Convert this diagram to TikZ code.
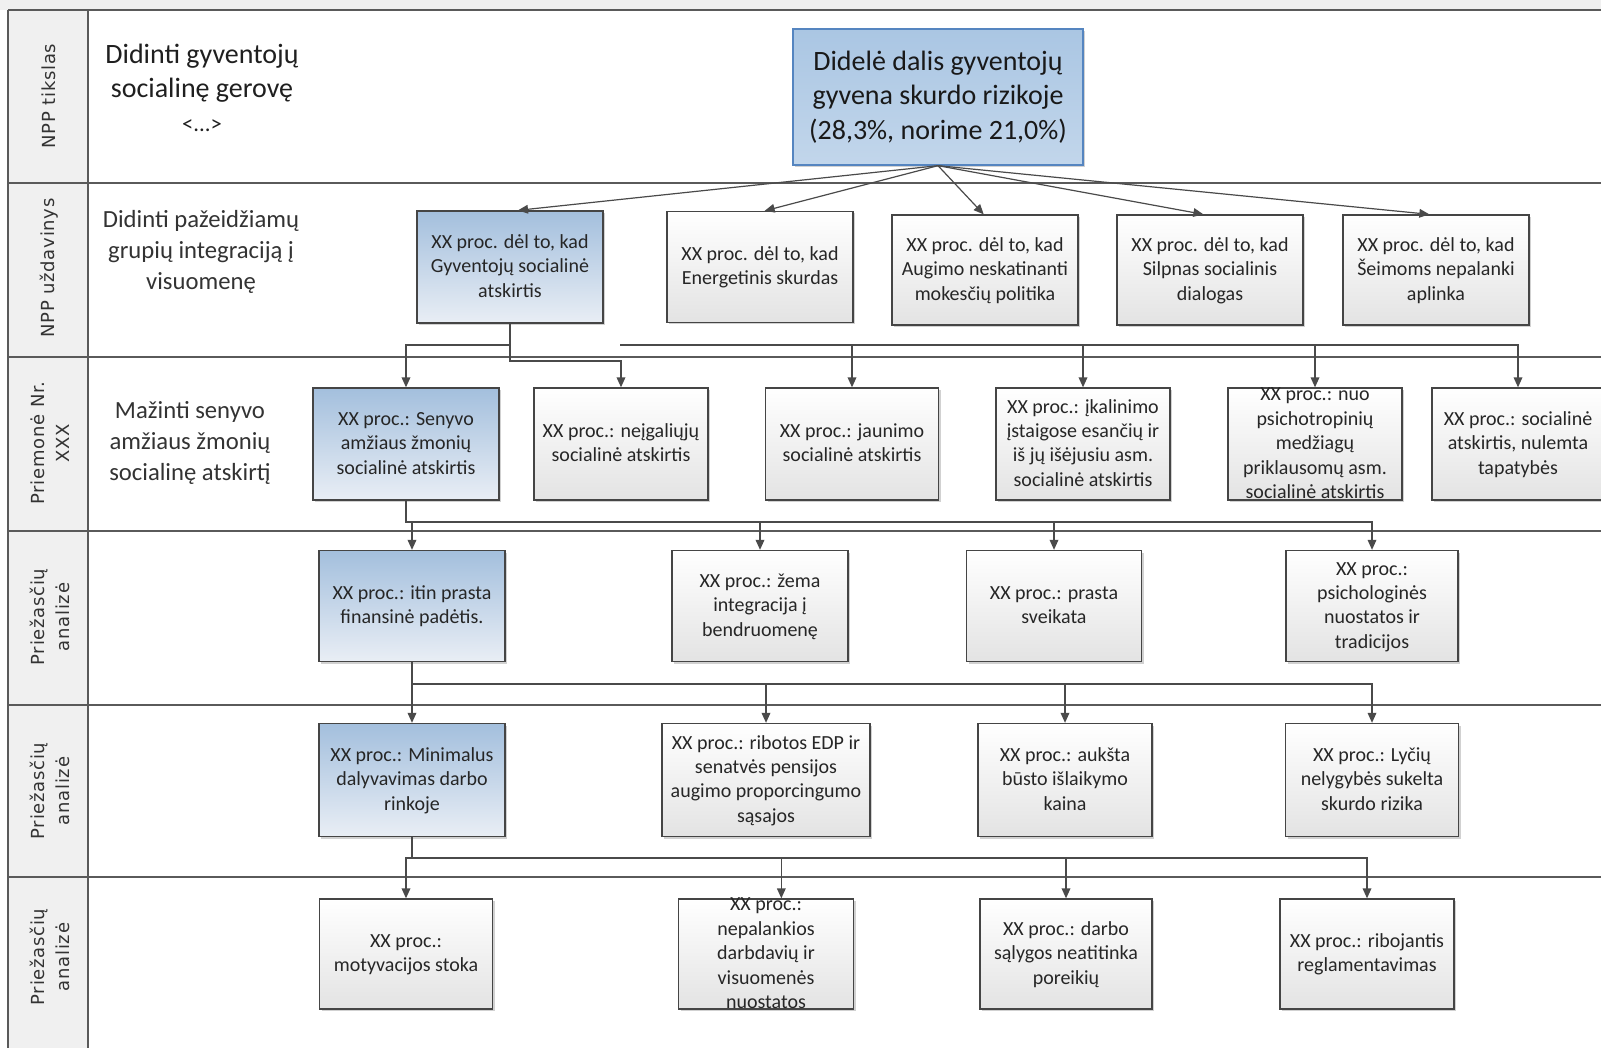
\documentclass[tikz,border=0pt]{standalone}
\usepackage{fontspec}
\setmainfont{Carlito}
\newfontfamily\lanefont[LetterSpace=4]{DejaVu Sans}
\usetikzlibrary{arrows.meta,shadows}
\definecolor{lanec}{HTML}{5A5A5A}
\definecolor{lanefill}{HTML}{F0F0F0}
\definecolor{boxc}{HTML}{454545}
\definecolor{connc}{HTML}{4A4A4A}
\definecolor{txtc}{HTML}{262626}
\definecolor{greyB}{HTML}{E3E3E3}
\definecolor{blueT}{HTML}{A3BFDD}
\definecolor{blueB}{HTML}{E9EEF5}
\definecolor{bigT}{HTML}{AAC6E3}
\definecolor{bigB}{HTML}{C2D6EB}
\definecolor{bigline}{HTML}{5585C0}
\definecolor{lanetxt}{HTML}{333333}
\newcommand{\bt}[1]{\smash{\raisebox{-0.28em}{\begin{tabular}{@{}c@{}}#1\end{tabular}}}}
\begin{document}
\begin{tikzpicture}[x=0.75pt,y=-0.75pt,
  sz/.style 2 args={minimum width={#1*0.75pt},minimum height={#2*0.75pt}},
  whitebox/.style={draw=boxc,line width=1pt,inner sep=0pt,top color=white,bottom color=greyB,
    drop shadow={shadow xshift=1.5pt,shadow yshift=-1.5pt,fill=black,opacity=0.18},
    text=txtc,font=\fontsize{15}{18.3}\selectfont},
  bluebox/.style={whitebox,top color=blueT,bottom color=blueB},
  bigbox/.style={draw=bigline,line width=1pt,inner sep=0pt,top color=bigT,bottom color=bigB,
    drop shadow={shadow xshift=1.5pt,shadow yshift=-1.5pt,fill=black,opacity=0.18},
    text=black!90,font=\fontsize{21}{25.7}\selectfont},
  lane/.style={draw=lanec,line width=1.1pt},
  lanelbl/.style={rotate=90,align=center,inner sep=0pt,text=lanetxt,
    font=\lanefont\fontsize{13.5}{18.5}\selectfont},
  sidetxt/.style={align=center,inner sep=0pt,text=black!88},
  conn/.style={draw=connc,line width=1pt,-{Triangle[length=7.5pt,width=6.5pt]}},
  diag/.style={draw=connc,line width=0.9pt,-{Triangle[length=7.5pt,width=6.5pt]}}]
\useasboundingbox (0,0) rectangle (1601,1048);
\fill[white] (0,0) rectangle (1601,1048);
% header strip and label column
\fill[lanefill] (0,0) rectangle (1601,10);
\fill[lanefill] (8,10) rectangle (88,1048);
\draw[lane] (8,10) -- (1601,10);
\foreach \yy in {183,357,531,705,877} \draw[lane] (8,\yy) -- (1601,\yy);
\draw[lane] (8,10) -- (8,1048);
\draw[lane] (88,10) -- (88,1048);
% lane labels
\node[lanelbl] (L1) at (49,96) {NPP tikslas};
\node[lanelbl] (L2) at (49,268) {NPP uždavinys};
\node[lanelbl] (L3) at (50,443) {Priemonė Nr.\\XXX};
\node[lanelbl] (L4) at (50,617) {Priežasčių\\analizė};
\node[lanelbl] (L5) at (50,791) {Priežasčių\\analizė};
\node[lanelbl] (L6) at (50,957) {Priežasčių\\analizė};
% side texts
\node[sidetxt,font=\fontsize{21}{25.7}\selectfont] (S1) at (202,88) {Didinti gyventojų\\socialinę gerovę\\{\fontsize{17}{20}\selectfont <...>}};
\node[sidetxt,font=\fontsize{18.5}{23}\selectfont,text=black!80] (S2) at (201,252) {Didinti pažeidžiamų\\grupių integraciją į\\visuomenę};
\node[sidetxt,font=\fontsize{18.5}{23.3}\selectfont,text=black!80] (S3) at (190,443) {Mažinti senyvo\\amžiaus žmonių\\socialinę atskirtį};
% goal box
\node[bigbox,sz={290}{136}] (A) at (938,97) {\bt{Didelė dalis gyventojų\\gyvena skurdo rizikoje\\(28,3\%, norime 21,0\%)}};
% row B
\node[bluebox,sz={186}{112}] (B1) at (510,267) {\bt{XX proc. dėl to, kad\\Gyventojų socialinė\\atskirtis}};
\node[whitebox,sz={186}{111}] (B2) at (760,267) {\bt{XX proc. dėl to, kad\\Energetinis skurdas}};
\node[whitebox,sz={186}{110}] (B3) at (985,270) {\bt{XX proc. dėl to, kad\\Augimo neskatinanti\\mokesčių politika}};
\node[whitebox,sz={186}{110}] (B4) at (1210,270) {\bt{XX proc. dėl to, kad\\Silpnas socialinis\\dialogas}};
\node[whitebox,sz={186}{110}] (B5) at (1436,270) {\bt{XX proc. dėl to, kad\\Šeimoms nepalanki\\aplinka}};
% row C
\node[bluebox,sz={186}{112}] (C1) at (406,444) {\bt{XX proc.: Senyvo\\amžiaus žmonių\\socialinė atskirtis}};
\node[whitebox,sz={174}{112}] (C2) at (621,444) {\bt{XX proc.: neįgaliųjų\\socialinė atskirtis}};
\node[whitebox,sz={173}{112}] (C3) at (852,444) {\bt{XX proc.: jaunimo\\socialinė atskirtis}};
\node[whitebox,sz={174}{112}] (C4) at (1083,444) {\bt{XX proc.: įkalinimo\\įstaigose esančių ir\\iš jų išėjusiu asm.\\socialinė atskirtis}};
\node[whitebox,sz={174}{112}] (C5) at (1315,444) {\bt{XX proc.: nuo\\psichotropinių\\medžiagų\\priklausomų asm.\\socialinė atskirtis}};
\node[whitebox,sz={172}{112}] (C6) at (1518,444) {\bt{XX proc.: socialinė\\atskirtis, nulemta\\tapatybės}};
% row D
\node[bluebox,sz={186}{111}] (D1) at (412,606) {\bt{XX proc.: itin prasta\\finansinė padėtis.}};
\node[whitebox,sz={176}{111}] (D2) at (760,606) {\bt{XX proc.: žema\\integracija į\\bendruomenę}};
\node[whitebox,sz={175}{111}] (D3) at (1054,606) {\bt{XX proc.: prasta\\sveikata}};
\node[whitebox,sz={172}{111}] (D4) at (1372,606) {\bt{XX proc.:\\psichologinės\\nuostatos ir\\tradicijos}};
% row E
\node[bluebox,sz={186}{113}] (E1) at (412,780) {\bt{XX proc.: Minimalus\\dalyvavimas darbo\\rinkoje}};
\node[whitebox,sz={208}{113}] (E2) at (766,780) {\bt{XX proc.: ribotos EDP ir\\senatvės pensijos\\augimo proporcingumo\\sąsajos}};
\node[whitebox,sz={174}{113}] (E3) at (1065,780) {\bt{XX proc.: aukšta\\būsto išlaikymo\\kaina}};
\node[whitebox,sz={173}{113}] (E4) at (1372,780) {\bt{XX proc.: Lyčių\\nelygybės sukelta\\skurdo rizika}};
% row F
\node[whitebox,sz={173}{110}] (F1) at (406,954) {\bt{XX proc.:\\motyvacijos stoka}};
\node[whitebox,sz={175}{110}] (F2) at (766,954) {\bt{XX proc.:\\nepalankios\\darbdavių ir\\visuomenės\\nuostatos}};
\node[whitebox,sz={172}{110}] (F3) at (1066,954) {\bt{XX proc.: darbo\\sąlygos neatitinka\\poreikių}};
\node[whitebox,sz={174}{110}] (F4) at (1367,954) {\bt{XX proc.: ribojantis\\reglamentavimas}};
% routing coordinates
\coordinate (r1) at (0,345);
\coordinate (r1b) at (0,361);
\coordinate (hub1) at (620,345);
\coordinate (r2) at (0,522);
\coordinate (r3) at (0,684);
\coordinate (r4) at (0,858);
% connectors
\foreach \b/\s in {B1/6,B2/3.5,B3/-1,B4/-5,B5/-5} \draw[diag] (A.south) -- ([xshift=\s pt]\b.north);
\draw[conn] (B1.south) -- (B1.south |- r1) -| (C1.north);
\draw[conn] (B1.south) -- (B1.south |- r1b) -| (C2.north);
\foreach \c in {C3,C4,C5,C6} \draw[conn] (hub1) -| (\c.north);
\foreach \d in {D1,D2,D3,D4} \draw[conn] (C1.south) -- (C1.south |- r2) -| (\d.north);
\foreach \e in {E1,E2,E3,E4} \draw[conn] (D1.south) -- (D1.south |- r3) -| (\e.north);
\foreach \f in {F1,F3,F4} \draw[conn] (E1.south) -- (E1.south |- r4) -| (\f.north);
\draw[conn] (E1.south) -- (E1.south |- r4) -| ([xshift=11.5pt]F2.north);
\end{tikzpicture}
\end{document}
